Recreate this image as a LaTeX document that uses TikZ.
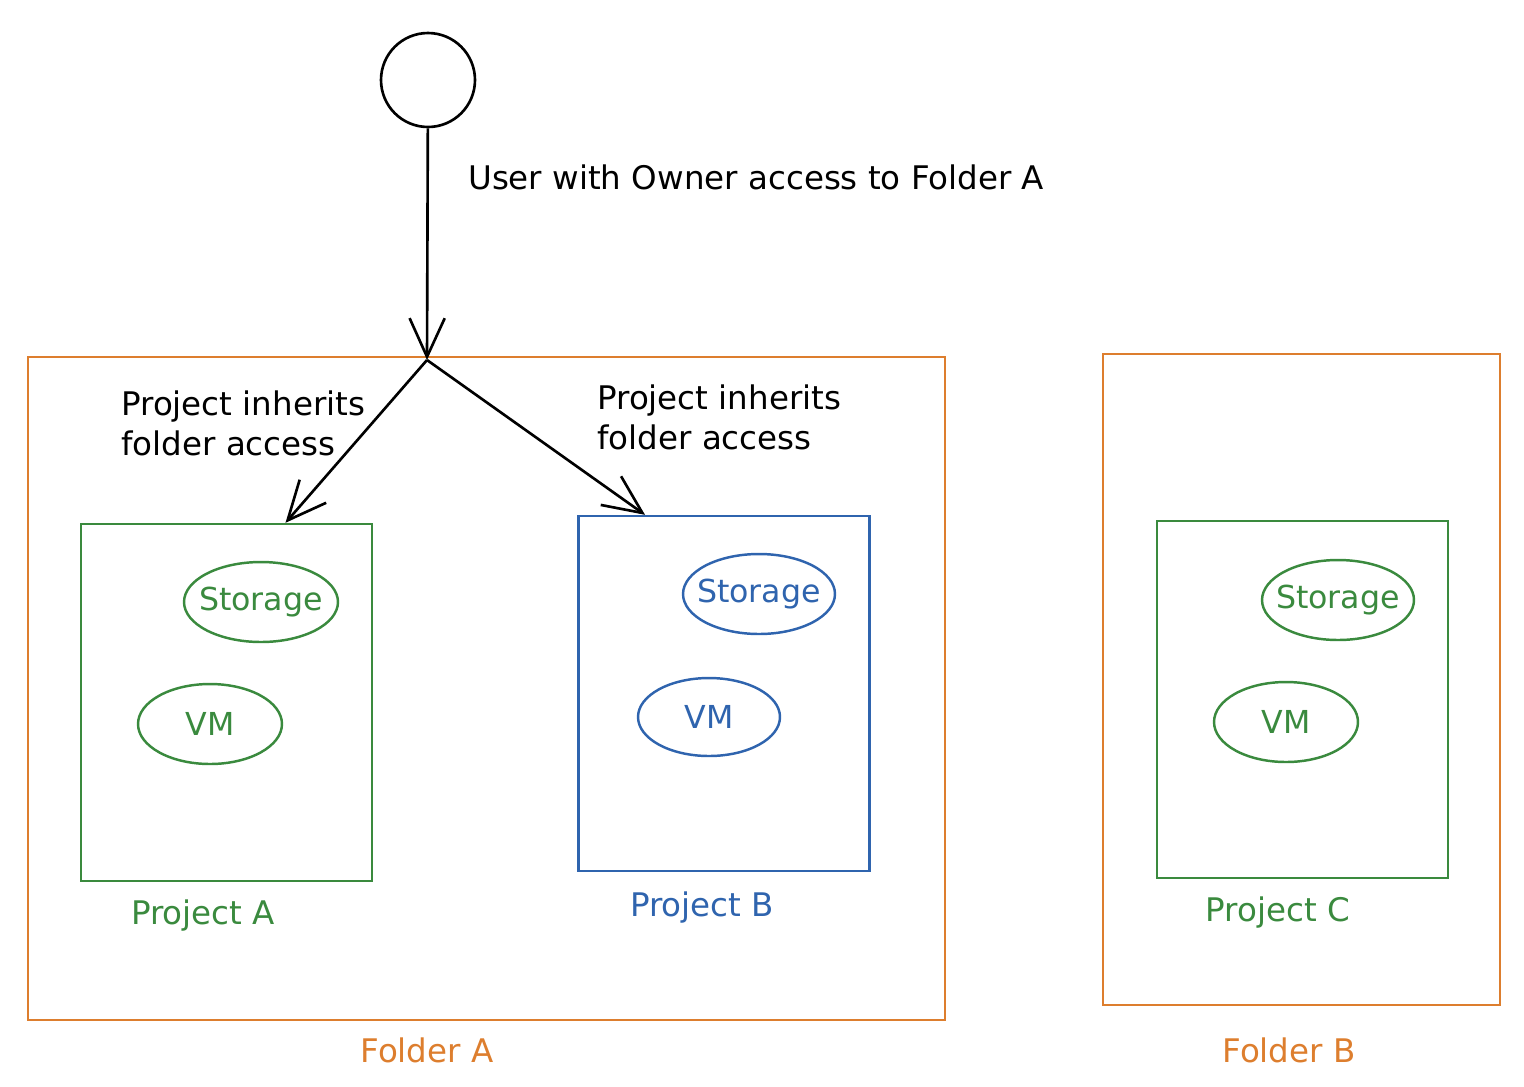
\documentclass[tikz,border=0pt]{standalone}
\usepackage{fontspec}
\setmainfont{DejaVu Sans}
\usetikzlibrary{arrows.meta,shapes.geometric}
\definecolor{folderorange}{HTML}{DD7E2E}
\definecolor{projgreen}{HTML}{3A8A3E}
\definecolor{projblue}{HTML}{2F64AE}
\tikzset{
  folderbox/.style={draw=folderorange, line width=1.4pt, inner sep=0pt},
  projbox/.style={draw=#1, line width=1.4pt, inner sep=0pt, minimum width=5.82cm, minimum height=7.14cm},
  res/.style={ellipse, draw=#1, text=#1, line width=1.4pt, inner xsep=-5pt, inner ysep=0pt, font=\fontsize{18}{21}\selectfont},
  arr/.style={-{Straight Barb[length=22pt,width=20pt]}, line width=1.5pt},
  lbl/.style={font=\fontsize{18.5}{23}\selectfont}
}
\begin{document}
\begin{tikzpicture}[x=0.02cm, y=-0.02cm]
\useasboundingbox (0,0) rectangle (1524,1086);
\node[circle, draw, line width=1.5pt, minimum size=1.88cm] (user) at (428,80) {};
\node[lbl, anchor=west] (userlbl) at (462,177) {User with Owner access to Folder A};
\node[folderbox, minimum width=18.34cm, minimum height=13.26cm] (folderA) at (486.5,688.5) {};
\node[folderbox, minimum width=7.94cm, minimum height=13.02cm] (folderB) at (1301.5,679.5) {};
\node[lbl, text=folderorange] (folderAlbl) at (427,1050) {Folder A};
\node[lbl, text=folderorange] (folderBlbl) at (1289,1050) {Folder B};
\coordinate (split) at (427,360);

\node[projbox=projgreen] (projA) at (226.5,702.5) {};
\node[projbox=projblue, minimum height=7.1cm] (projB) at (724,693.5) {};
\node[projbox=projgreen] (projC) at (1302.5,699.5) {};
\node[lbl, text=projgreen] (projAlbl) at (203,916) {Project A};
\node[lbl, text=projblue] (projBlbl) at (702,908) {Project B};
\node[lbl, text=projgreen] (projClbl) at (1278,913) {Project C};

\node[res=projgreen, minimum width=3.08cm, minimum height=1.6cm] (storA) at (261,602) {Storage};
\node[res=projgreen, minimum width=2.88cm, minimum height=1.6cm] (vmA) at (210,724) {VM};
\node[res=projblue, minimum width=3.04cm, minimum height=1.6cm] (storB) at (759,594) {Storage};
\node[res=projblue, minimum width=2.84cm, minimum height=1.56cm] (vmB) at (709,717) {VM};
\node[res=projgreen, minimum width=3.04cm, minimum height=1.6cm] (storC) at (1338,600) {Storage};
\node[res=projgreen, minimum width=2.88cm, minimum height=1.6cm] (vmC) at (1286,722) {VM};

\node[lbl, anchor=north west, align=left, inner sep=0pt] (inhA) at (121,390) {Project inherits\\folder access};
\node[lbl, anchor=north west, align=left, inner sep=0pt] (inhB) at (597,384) {Project inherits\\folder access};

\draw[arr] (user) -- (split);
\draw[arr] (split) -- ([xshift=1.18cm]projA.north);
\draw[arr] (split) -- ([xshift=-1.58cm]projB.north);
\end{tikzpicture}
\end{document}
